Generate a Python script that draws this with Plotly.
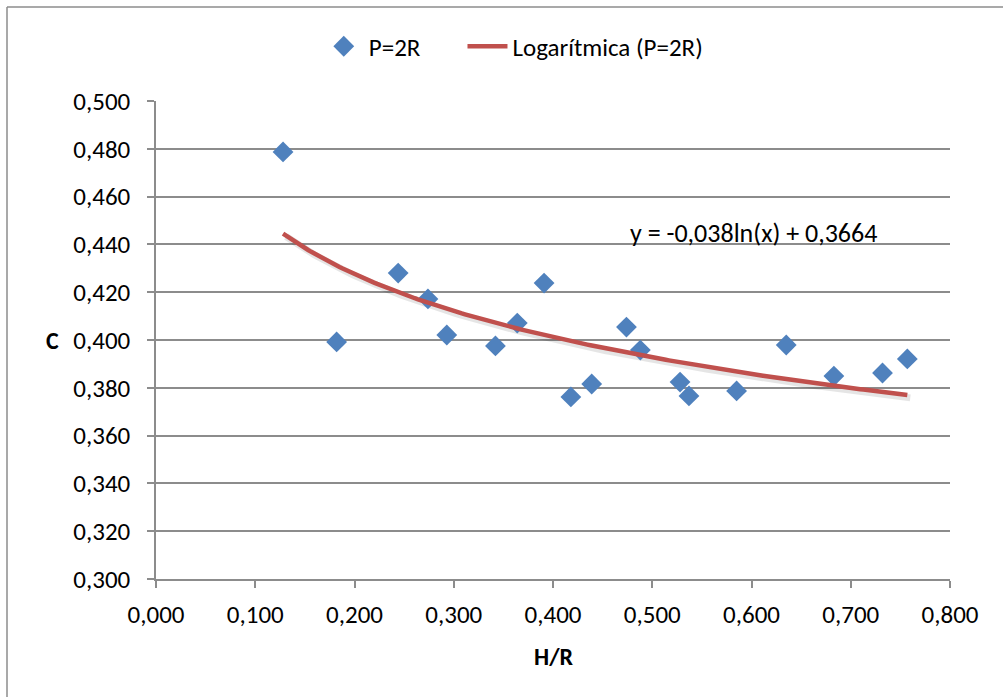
import numpy as np
import plotly.graph_objects as go

# Measured points: relative height H/R vs coefficient C (P = 2R)
h_over_r = [0.128, 0.182, 0.244, 0.274, 0.293, 0.342, 0.364, 0.391, 0.418,
            0.439, 0.474, 0.488, 0.528, 0.537, 0.585, 0.635, 0.683, 0.732, 0.757]
c_values = [0.4787, 0.3992, 0.4280, 0.4172, 0.4021, 0.3975, 0.4071, 0.4238, 0.3762,
            0.3816, 0.4054, 0.3958, 0.3824, 0.3766, 0.3787, 0.3979, 0.3849, 0.3862, 0.3921]

# Logarithmic trend: y = a*ln(x) + b
trend_a = -0.038
trend_b = 0.3664

x_ticks = [0.0, 0.1, 0.2, 0.3, 0.4, 0.5, 0.6, 0.7, 0.8]
y_ticks = [0.30, 0.32, 0.34, 0.36, 0.38, 0.40, 0.42, 0.44, 0.46, 0.48, 0.50]


def comma(v):
    return f"{v:.3f}".replace(".", ",")


FONT = "Carlito, Calibri, Liberation Sans, Arial, sans-serif"
GRID = "#8c8c8c"
FS = 25

xt = np.linspace(min(h_over_r), max(h_over_r), 200)
yt = trend_a * np.log(xt) + trend_b

fig = go.Figure()

# soft shadow under the trend line
fig.add_trace(go.Scatter(
    x=xt + 0.003, y=yt - 0.0012, mode="lines",
    line=dict(color="rgba(0,0,0,0.10)", width=7),
    hoverinfo="skip", showlegend=False,
))

fig.add_trace(go.Scatter(
    x=h_over_r, y=c_values, mode="markers", name="P=2R",
    marker=dict(symbol="diamond", size=16, color="#4F81BD",
                line=dict(width=0)),
    legend="legend",
))

fig.add_trace(go.Scatter(
    x=xt, y=yt, mode="lines", name="Logarítmica (P=2R)",
    line=dict(color="#C0504D", width=4.5),
    legend="legend2",
))

sign = "-" if trend_a < 0 else ""
eq_text = f"y = {sign}{abs(trend_a):.3f}ln(x) + {trend_b:.4f}".replace(".", ",")

fig.add_annotation(
    x=0.6025, y=0.4448, xref="x", yref="y", text=eq_text, showarrow=False,
    font=dict(family=FONT, size=FS + 1, color="#000000"),
)

# axis titles
fig.add_annotation(
    x=-0.13, y=0.400, xref="paper", yref="y", text="<b>C</b>", showarrow=False,
    xanchor="center", yanchor="middle",
    font=dict(family=FONT, size=FS - 1, color="#000000"),
)
fig.add_annotation(
    x=0.5, y=-0.163, xref="paper", yref="paper", text="<b>H/R</b>", showarrow=False,
    xanchor="center", yanchor="middle",
    font=dict(family=FONT, size=FS - 1, color="#000000"),
)

# chart frame
fig.add_shape(type="line", xref="paper", yref="paper",
              x0=(7 - 156) / 794, x1=(1010 - 156) / 794,
              y0=(697 - 7 - 118) / 478, y1=(697 - 7 - 118) / 478,
              line=dict(color="#8c8c8c", width=1.5))
fig.add_shape(type="line", xref="paper", yref="paper",
              x0=(7 - 156) / 794, x1=(7 - 156) / 794,
              y0=(697 - 7 - 118) / 478, y1=-0.3,
              line=dict(color="#8c8c8c", width=1.5))

fig.update_xaxes(
    range=[0, 0.8], tickvals=x_ticks, ticktext=[comma(v) for v in x_ticks],
    showgrid=False, zeroline=False, showline=True, linecolor=GRID, linewidth=1.5,
    ticks="outside", ticklen=7, tickcolor=GRID, tickwidth=1.5,
    ticklabelstandoff=5,
    tickfont=dict(family=FONT, size=FS, color="#000000"),
)
fig.update_yaxes(
    range=[0.30, 0.50], tickvals=y_ticks, ticktext=[comma(v) for v in y_ticks],
    showgrid=True, gridcolor=GRID, gridwidth=1.5, zeroline=False,
    showline=True, linecolor=GRID, linewidth=1.5,
    ticks="outside", ticklen=7, tickcolor=GRID, tickwidth=1.5,
    ticklabelstandoff=12,
    tickfont=dict(family=FONT, size=FS, color="#000000"),
)

legend_common = dict(orientation="h", y=1.114, xanchor="left", yanchor="middle",
                     font=dict(family=FONT, size=FS), itemwidth=40,
                     bgcolor="rgba(0,0,0,0)")

fig.update_layout(
    width=1003, height=697,
    margin=dict(l=156, r=53, t=101, b=118, autoexpand=False),
    paper_bgcolor="white", plot_bgcolor="white",
    font=dict(family=FONT, size=FS, color="#000000"),
    legend=dict(x=0.205, **legend_common),
    legend2=dict(x=0.386, **legend_common),
)

fig.write_html("out.html")
